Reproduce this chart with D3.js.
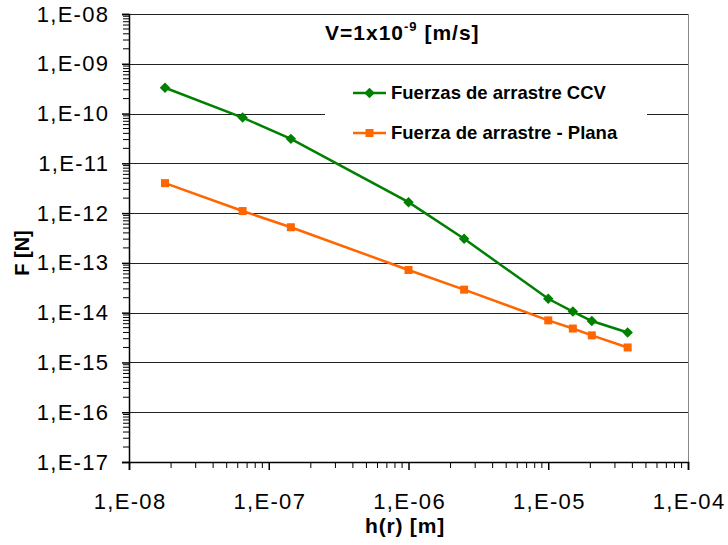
<!DOCTYPE html>
<html>
<head>
<meta charset="utf-8">
<script src="https://cdn.jsdelivr.net/npm/d3@7"></script>
<style>
  body { margin: 0; background: #fff; overflow: hidden; }
  text { font-family: "Liberation Sans", Arial, sans-serif; }
</style>
</head>
<body>
<svg width="728" height="545"></svg>
<script>
// data
const hValues = [1.81e-8, 6.5e-8, 1.44e-7, 1.0e-6, 2.5e-6, 1.0e-5, 1.5e-5, 2.05e-5, 3.7e-5];
const fuerzaCCV = [3.3e-10, 8.3e-11, 3.1e-11, 1.66e-12, 3.05e-13, 1.9e-14, 1.05e-14, 6.8e-15, 4.0e-15];
const fuerzaPlana = [4.0e-12, 1.1e-12, 5.2e-13, 7.2e-14, 2.9e-14, 7.0e-15, 4.8e-15, 3.5e-15, 2.0e-15];
const seriesNames = ['Fuerzas de arrastre CCV', 'Fuerza de arrastre - Plana'];
const xTicks = [1e-8, 1e-7, 1e-6, 1e-5, 1e-4];
const yTicks = [1e-17, 1e-16, 1e-15, 1e-14, 1e-13, 1e-12, 1e-11, 1e-10, 1e-9, 1e-8];

const svg = d3.select('svg');
const margin = {top: 14, left: 129, right: 40, bottom: 83};
const width = +svg.attr('width');
const height = +svg.attr('height');
const innerWidth = width - margin.left - margin.right;
const innerHeight = height - margin.top - margin.bottom;

const xScale = d3.scaleLog().domain([1e-8, 1e-4]).range([0, innerWidth]);
const yScale = d3.scaleLog().domain([1e-17, 1e-8]).range([innerHeight, 0]);

// excel style "1,E-08"
const fmt = d => {
    const e = Math.round(Math.log10(d));
    return '1,E' + (e < 0 ? '-' : '+') + String(Math.abs(e)).padStart(2, '0');
};

const g = svg.append('g')
    .attr('transform', `translate(${margin.left}, ${margin.top})`);

// horizontal grid lines
g.append('g').selectAll('line').data(yTicks)
    .enter().append('line')
    .attr('x1', 0).attr('x2', innerWidth)
    .attr('y1', d => Math.round(yScale(d)) + 0.5)
    .attr('y2', d => Math.round(yScale(d)) + 0.5)
    .attr('stroke', '#222')
    .attr('stroke-width', 1);

// right border
g.append('line')
    .attr('x1', innerWidth + 0.5).attr('x2', innerWidth + 0.5)
    .attr('y1', 0).attr('y2', innerHeight)
    .attr('stroke', '#888');

// minor ticks
const minorX = [];
const minorY = [];
xTicks.slice(0, -1).forEach(t => { for (let k = 2; k < 10; k++) minorX.push(t * k); });
yTicks.slice(0, -1).forEach(t => { for (let k = 2; k < 10; k++) minorY.push(t * k); });

const xAxis = d3.axisBottom(xScale)
    .tickValues(xTicks)
    .tickFormat(fmt)
    .tickSize(8);

const yAxis = d3.axisLeft(yScale)
    .tickValues(yTicks)
    .tickFormat(fmt)
    .tickSize(7)
    .tickPadding(14);

const xAxisG = g.append('g')
    .attr('transform', `translate(0, ${innerHeight})`)
    .call(xAxis);
xAxisG.append('g').selectAll('line').data(minorX)
    .enter().append('line')
    .attr('x1', d => xScale(d)).attr('x2', d => xScale(d))
    .attr('y1', 0).attr('y2', 6)
    .attr('stroke', '#000');

const yAxisG = g.append('g').call(yAxis);
yAxisG.append('g').selectAll('line').data(minorY)
    .enter().append('line')
    .attr('y1', d => yScale(d)).attr('y2', d => yScale(d))
    .attr('x1', 0).attr('x2', -6)
    .attr('stroke', '#000');

[xAxisG, yAxisG].forEach(a => {
    a.select('.domain').attr('stroke', '#000').attr('stroke-width', 1.5);
    a.selectAll('.tick line').attr('stroke', '#000').attr('stroke-width', 1.5);
    a.selectAll('.tick text')
        .attr('font-size', 22)
        .attr('fill', '#000')
        .style('letter-spacing', '1.3px')
        .style('font-family', '"Liberation Sans", Arial, sans-serif');
});
xAxisG.selectAll('.tick text').attr('y', 47).attr('dy', 0).attr('dx', 0.6);
yAxisG.selectAll('.tick text').attr('dx', 1.3);

// legend background (hides grid line)
const legend = g.append('g').attr('transform', 'translate(196, 62)');
legend.append('rect')
    .attr('width', 322).attr('height', 82)
    .attr('fill', '#fff');

const line = d3.line()
    .x((d, i) => xScale(hValues[i]))
    .y(d => yScale(d));

const colors = ['#008000', '#ff6600'];

g.append('path').datum(fuerzaCCV)
    .attr('d', line)
    .attr('fill', 'none')
    .attr('stroke', colors[0])
    .attr('stroke-width', 2.5);

g.append('path').datum(fuerzaPlana)
    .attr('d', line)
    .attr('fill', 'none')
    .attr('stroke', colors[1])
    .attr('stroke-width', 2.5);

const diamond = d3.symbol().type(d3.symbolDiamond2).size(70);

g.selectAll('.ccv').data(fuerzaCCV)
    .enter().append('path')
    .attr('class', 'ccv')
    .attr('d', diamond)
    .attr('transform', (d, i) => `translate(${xScale(hValues[i])}, ${yScale(d)})`)
    .attr('fill', colors[0]);

g.selectAll('.plana').data(fuerzaPlana)
    .enter().append('rect')
    .attr('class', 'plana')
    .attr('x', (d, i) => xScale(hValues[i]) - 4)
    .attr('y', d => yScale(d) - 4)
    .attr('width', 8).attr('height', 8)
    .attr('fill', colors[1]);

// legend entries
seriesNames.forEach((name, i) => {
    const row = legend.append('g').attr('transform', `translate(0, ${17 + i * 40})`);
    row.append('line')
        .attr('x1', 28).attr('x2', 61)
        .attr('stroke', colors[i]).attr('stroke-width', 2.5);
    if (i === 0) {
        row.append('path').attr('d', diamond).attr('transform', 'translate(44.5,0)').attr('fill', colors[i]);
    } else {
        row.append('rect').attr('x', 40.5).attr('y', -4).attr('width', 8).attr('height', 8).attr('fill', colors[i]);
    }
    row.append('text')
        .attr('x', 66)
        .attr('dy', '0.35em')
        .attr('font-size', 18.5)
        .attr('font-weight', 'bold')
        .text(name);
});

// title inside plot
const title = g.append('text')
    .attr('x', 196)
    .attr('y', 26)
    .attr('font-size', 21)
    .attr('font-weight', 'bold')
    .style('letter-spacing', '1px');
title.append('tspan').text('V=1x10');
title.append('tspan').attr('dy', -9).attr('font-size', 13).text('-9');
title.append('tspan').attr('dy', 9).text(' [m/s]');

// axis labels
svg.append('text')
    .attr('x', 405)
    .attr('y', 533)
    .attr('text-anchor', 'middle')
    .attr('font-size', 21)
    .attr('font-weight', 'bold')
    .style('letter-spacing', '0.8px')
    .text('h(r) [m]');

svg.append('text')
    .attr('transform', `translate(29, 253) rotate(-90)`)
    .attr('text-anchor', 'middle')
    .attr('font-size', 20)
    .attr('font-weight', 'bold')
    .text('F [N]');
</script>
</body>
</html>
